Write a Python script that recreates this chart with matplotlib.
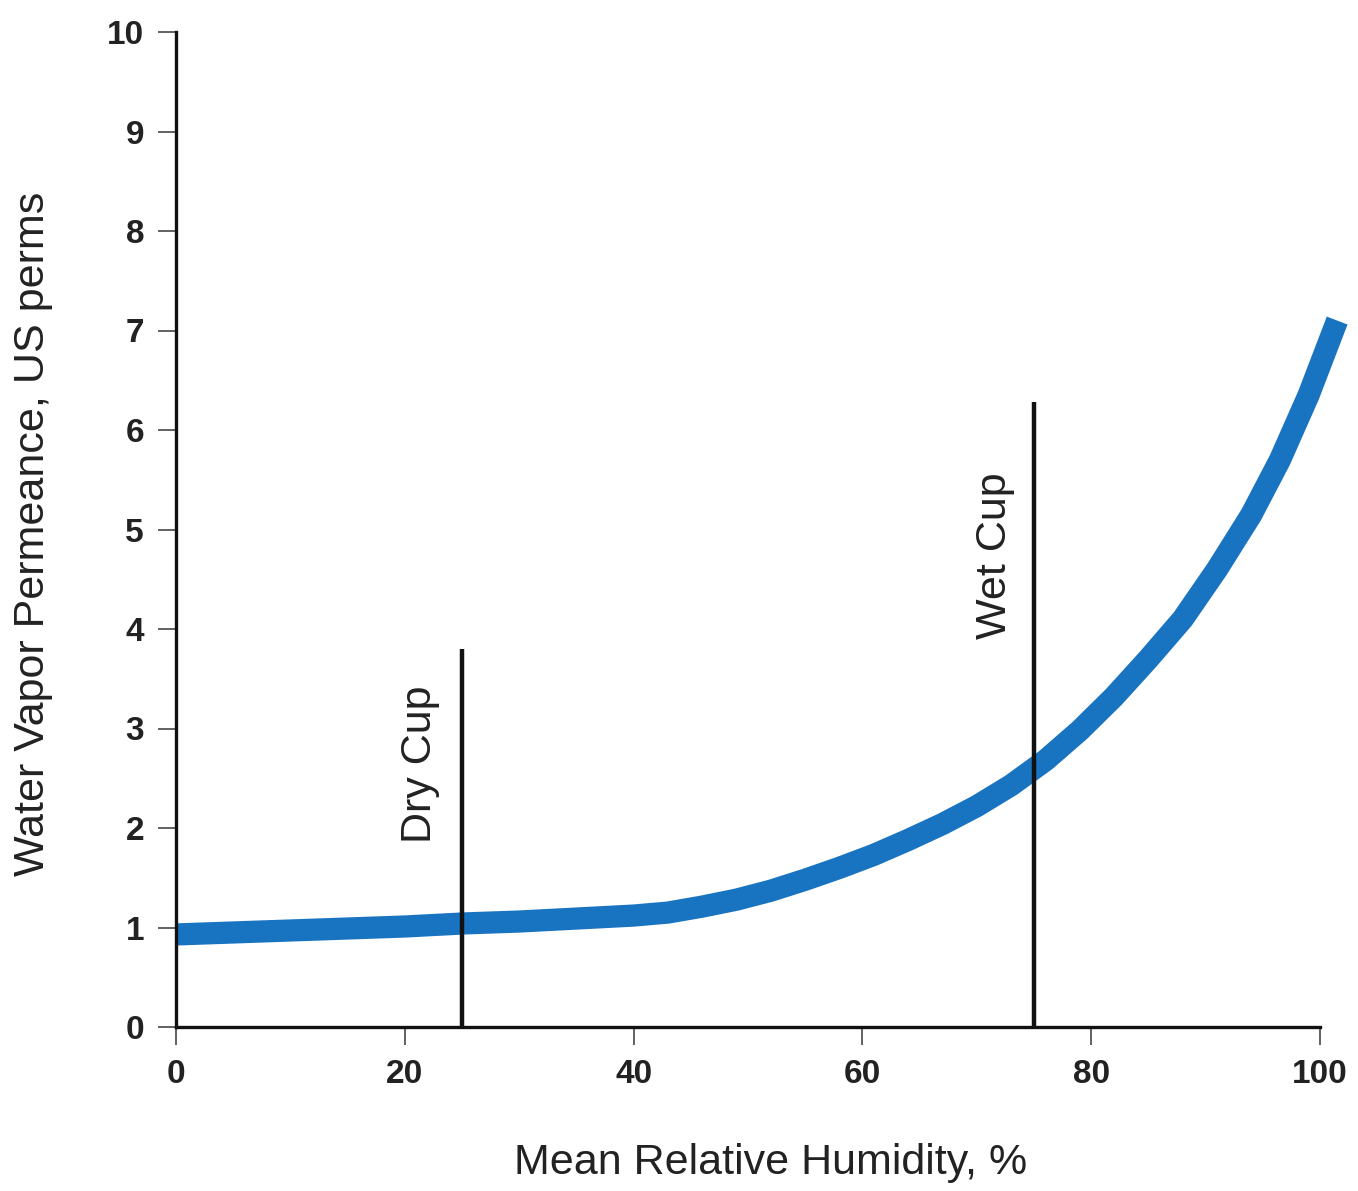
import matplotlib.pyplot as plt

# Curva de permeancia
humedad = [0, 5, 10, 15, 20, 25, 30, 35, 40, 43, 46, 49, 52, 55, 58, 61, 64, 67, 70, 73, 76, 79,
           82, 85, 88, 91, 94, 96.5, 99, 101.5]
permeancia = [0.93, 0.95, 0.97, 0.99, 1.01, 1.04, 1.06, 1.09, 1.12, 1.15, 1.21, 1.28, 1.37, 1.48,
              1.6, 1.73, 1.88, 2.04, 2.22, 2.43, 2.68, 2.98, 3.32, 3.7, 4.1, 4.6, 5.15, 5.7, 6.35, 7.1]

# Lineas de copa seca / humeda
copas = ['Dry Cup', 'Wet Cup']
copa_x = [25, 75]
copa_alto = [3.8, 6.28]
copa_texto_x = [21.3, 71.6]
copa_texto_y = [1.85, 3.9]

x_ticks = [0, 20, 40, 60, 80, 100]
y_ticks = list(range(0, 11))

plt.rcParams['font.family'] = ['Liberation Sans', 'DejaVu Sans']

fig = plt.figure(figsize=(13.58, 11.91), dpi=100)
ax = fig.add_axes([176 / 1358, 1 - 1027 / 1191, (1320 - 176) / 1358, (1027 - 32) / 1191])

ax.plot(humedad, permeancia, color='#1874c1', linewidth=16, solid_capstyle='butt',
        solid_joinstyle='round', clip_on=False, zorder=2)

for nombre, x, alto, tx, ty in zip(copas, copa_x, copa_alto, copa_texto_x, copa_texto_y):
    ax.plot([x, x], [0, alto], color='#111111', linewidth=3.2, solid_capstyle='butt', zorder=3)
    ax.text(tx, ty, nombre, rotation=90, fontsize=31, color='#222222', ha='center', va='bottom')

ax.set_xlim(0, 100)
ax.set_ylim(0, 10)
ax.set_xticks(x_ticks)
ax.set_yticks(y_ticks)

for lado in ['top', 'right']:
    ax.spines[lado].set_visible(False)
for lado in ['left', 'bottom']:
    ax.spines[lado].set_linewidth(2.4)
    ax.spines[lado].set_color('#111111')

ax.tick_params(axis='both', direction='out', length=13, width=1.3, color='#555555', labelsize=24, pad=10)
for lbl in ax.get_xticklabels() + ax.get_yticklabels():
    lbl.set_fontweight('bold')
    lbl.set_color('#222222')

ax.set_xlabel('Mean Relative Humidity, %', fontsize=31, color='#222222')
ax.set_ylabel('Water Vapor Permeance, US perms', fontsize=31, color='#222222')
ax.xaxis.set_label_coords((771 - 176) / 1144, -(1163 - 1027) / 995, transform=ax.transAxes)
ax.yaxis.set_label_coords(-(176 - 33) / 1144, (1027 - 534) / 995, transform=ax.transAxes)
ax.xaxis.label.set_va('center')
ax.yaxis.label.set_va('center')

fig.savefig('out.png', dpi=100)
